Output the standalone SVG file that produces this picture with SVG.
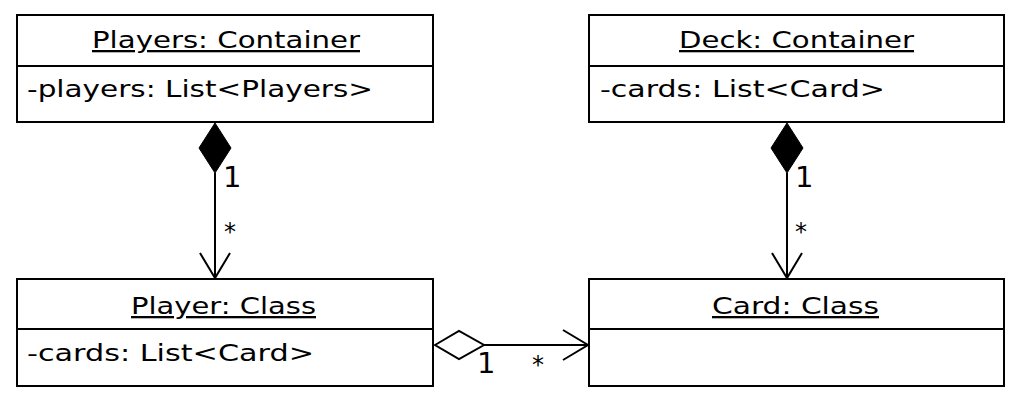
<svg xmlns="http://www.w3.org/2000/svg" width="1020" height="404" viewBox="0 0 1020 404">
<style>
.box{fill:#fff;stroke:#000;stroke-width:2}
.ln{stroke:#000;stroke-width:2;fill:none}
.t{font-family:"DejaVu Sans",sans-serif;font-size:23px;fill:#000}
.u{text-decoration:underline}
.m{font-family:"DejaVu Sans",sans-serif;font-size:29px;fill:#000}
.s{font-family:"DejaVu Sans",sans-serif;font-size:24px;fill:#000}
</style>
<rect width="1020" height="404" fill="#fff"/>
<g id="players">
<rect class="box" x="17" y="15" width="416" height="107"/>
<line class="ln" x1="17" y1="66" x2="433" y2="66"/>
<text class="t u" x="92" y="48" textLength="268" lengthAdjust="spacingAndGlyphs">Players: Container</text>
<text class="t" x="27" y="97" textLength="346" lengthAdjust="spacingAndGlyphs">-players: List&lt;Players&gt;</text>
</g>
<g id="deck">
<rect class="box" x="589" y="15" width="415" height="107"/>
<line class="ln" x1="589" y1="66" x2="1004" y2="66"/>
<text class="t u" x="679" y="48" textLength="235" lengthAdjust="spacingAndGlyphs">Deck: Container</text>
<text class="t" x="600" y="97" textLength="285" lengthAdjust="spacingAndGlyphs">-cards: List&lt;Card&gt;</text>
</g>
<g id="player">
<rect class="box" x="17" y="279" width="416" height="107"/>
<line class="ln" x1="17" y1="329" x2="433" y2="329"/>
<text class="t u" x="131" y="314" textLength="185" lengthAdjust="spacingAndGlyphs">Player: Class</text>
<text class="t" x="27" y="361" textLength="287" lengthAdjust="spacingAndGlyphs">-cards: List&lt;Card&gt;</text>
</g>
<g id="card">
<rect class="box" x="589" y="279" width="415" height="107"/>
<line class="ln" x1="589" y1="329" x2="1004" y2="329"/>
<text class="t u" x="712" y="314" textLength="167" lengthAdjust="spacingAndGlyphs">Card: Class</text>
</g>
<g id="connectors">
<line class="ln" x1="215" y1="173" x2="215" y2="278"/>
<polygon points="215,123 231,148 215,173 199,148" fill="#000" stroke="#000" stroke-width="1"/>
<polyline class="ln" points="200,253 215,278 230,253"/>
<text class="m" x="223" y="187">1</text>
<text class="s" x="224" y="240">*</text>
<line class="ln" x1="787" y1="173" x2="787" y2="278"/>
<polygon points="787,123 803,148 787,173 771,148" fill="#000" stroke="#000" stroke-width="1"/>
<polyline class="ln" points="772,253 787,278 802,253"/>
<text class="m" x="795" y="187">1</text>
<text class="s" x="795" y="240">*</text>
<line class="ln" x1="484" y1="345" x2="588" y2="345"/>
<polygon points="435,345 459,331 484,345 459,359" fill="#fff" stroke="#000" stroke-width="2"/>
<polyline class="ln" points="563,330 588,345 563,360"/>
<text class="m" x="477" y="373">1</text>
<text class="s" x="532" y="373">*</text>
</g>
</svg>
